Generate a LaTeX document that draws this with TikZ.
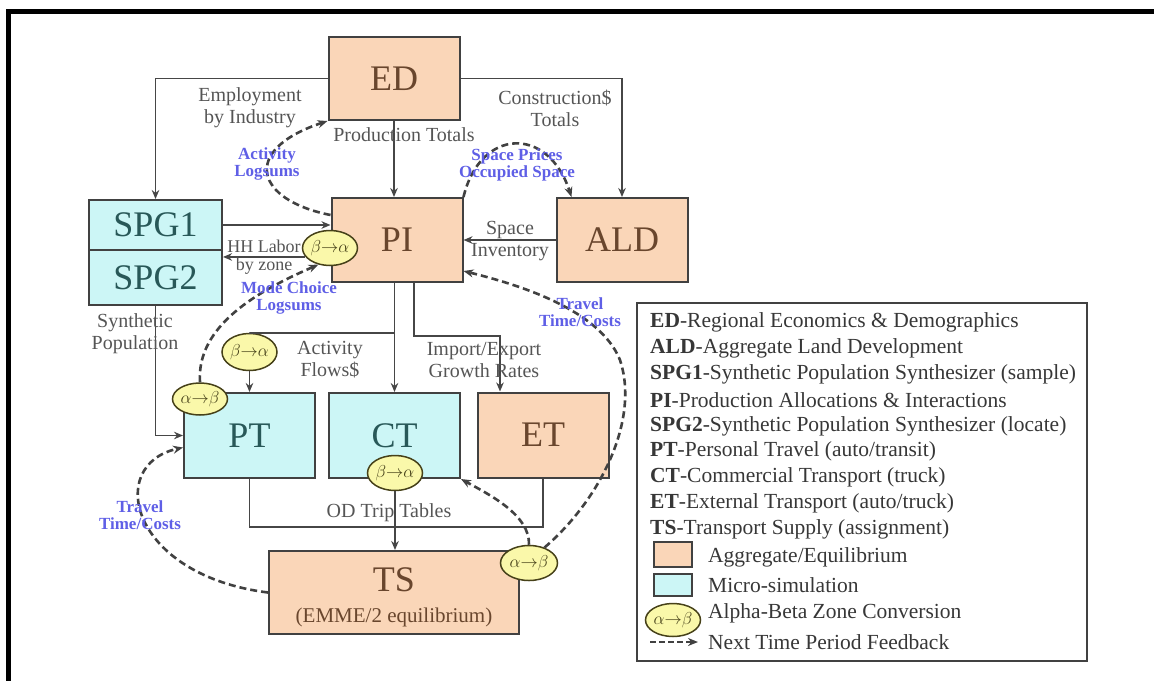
\documentclass[tikz,border=0pt]{standalone}
\usepackage{fontspec}
\setmainfont{Liberation Serif}
\usepackage{xcolor}
\usepackage{tikz}
\usetikzlibrary{arrows.meta, positioning, shapes.geometric, calc}

\definecolor{aggfill}{RGB}{250,214,184}
\definecolor{aggtext}{RGB}{105,70,45}
\definecolor{microfill}{RGB}{204,246,246}
\definecolor{microtext}{RGB}{40,88,88}
\definecolor{convfill}{RGB}{250,248,170}
\definecolor{convline}{RGB}{70,65,25}
\definecolor{boxline}{RGB}{65,65,65}
\definecolor{linegray}{RGB}{70,70,70}
\definecolor{lbltext}{RGB}{85,85,85}
\definecolor{fbtext}{RGB}{95,95,230}
\definecolor{legtext}{RGB}{55,55,55}

\begin{document}
\begin{tikzpicture}[
    x=1pt, y=-1pt,
    box/.style={
        rectangle,
        draw=boxline,
        line width=2pt,
        minimum width=131pt,
        minimum height=84pt,
        inner sep=0pt,
        font=\fontsize{36}{36}\selectfont
    },
    agg/.style={box, fill=aggfill, text=aggtext},
    micro/.style={box, fill=microfill, text=microtext},
    conv/.style={
        ellipse,
        draw=convline,
        fill=convfill,
        line width=1.5pt,
        minimum width=55pt,
        minimum height=35pt,
        inner sep=0pt,
        text=convline,
        font=\fontsize{16}{16}\selectfont
    },
    lbl/.style={align=center, text=lbltext, font=\fontsize{20}{22}\selectfont},
    fb/.style={align=center, text=fbtext, font=\bfseries\fontsize{17}{17.5}\selectfont},
    leg/.style={anchor=west, text=legtext, inner sep=0pt, font=\fontsize{21.5}{22}\selectfont},
    link/.style={line width=1.9pt, draw=linegray},
    arrow/.style={link, -{Stealth[length=9pt, width=7.5pt]}},
    feedback/.style={
        -{Stealth[length=10pt, width=8pt]},
        line width=2.6pt,
        draw=boxline,
        dash pattern=on 7pt off 4pt
    }
]
\useasboundingbox (0,0) rectangle (1154,681);

% === Frame ===
\fill[black] (6,9) rectangle (1154,14);
\fill[black] (6,9) rectangle (11,681);

% === Aggregate / equilibrium models ===
\node[agg, minimum height=83pt] (ed) at (394,78.5) {ED};
\node[agg] (pi) at (397,240) {PI};
\node[agg] (ald) at (622,240) {ALD};
\node[agg, minimum height=85pt] (et) at (543,435) {ET};
\node[agg, minimum width=250pt, minimum height=83pt] (ts) at (394,592.5) {};
\node[text=aggtext, font=\fontsize{36}{36}\selectfont] (tsname) at (394,580) {TS};
\node[text=aggtext, font=\fontsize{21}{21}\selectfont] (tsmodel) at (394,617) {(EMME/2 equilibrium)};

% === Micro-simulation models ===
\node[micro, minimum width=133pt, minimum height=50pt] (spg1) at (155.5,225) {SPG1};
\node[micro, minimum width=133pt, minimum height=55pt] (spg2) at (155.5,277.5) {SPG2};
\node[micro, minimum height=85pt] (pt) at (249.5,435.5) {PT};
\node[micro, minimum height=85pt] (ct) at (394.5,435.5) {CT};

% === Zone conversions ===
\node[conv] (bapi) at (330,248) {$\beta{\rightarrow}\alpha$};
\node[conv, minimum height=37pt] (bapt) at (249.5,352) {$\beta{\rightarrow}\alpha$};
\node[conv, minimum height=32pt] (abpt) at (200,399) {$\alpha{\rightarrow}\beta$};
\node[conv] (bact) at (395,473) {$\beta{\rightarrow}\alpha$};
\node[conv, minimum width=57pt] (abts) at (529,563) {$\alpha{\rightarrow}\beta$};

% === Flows ===
\coordinate (split) at (394.5,333);
\draw[arrow] (ed.west) -| (spg1.north);
\draw[arrow] (ed.east) -| (ald.north);
\draw[arrow] (ed.south) -- (ed.south |- pi.north);
\draw[arrow] (spg1.east) -- (spg1.east -| pi.west);
\draw[arrow] (bapi.200) -- (bapi.200 -| spg2.east);
\draw[arrow] (ald.west) -- (pi.east);
\draw[arrow] (ct.north |- pi.south) -- (ct.north);
\draw[link] (split) -| (bapt.north);
\draw[arrow] (bapt.south) -- (pt.north);
\draw[arrow] ([xshift=17pt]pi.south) -- ++(0,53) -| ([xshift=-43pt]et.north);
\draw[arrow] (spg2.south) |- (pt.west);
\draw[link] (pt.south) -- ++(0,48) -| (et.south);
\draw[arrow] (bact.south) -- (bact.south |- ts.north);

% === Next time period feedback ===
\draw[feedback] ([yshift=-18pt]pi.north west) .. controls (255,200) and (240,150) .. (ed.south west);
\draw[feedback] (pi.north east) .. controls (480,128) and (548,125) .. ([xshift=16pt]ald.north west);
\draw[feedback] (abpt.north) .. controls (196,325) and (260,290) .. (bapi.235);
\draw[feedback] (abts.45) .. controls (600,500) and (640,420) .. (620,360)
    .. controls (600,310) and (520,285) .. ([yshift=12pt]pi.south east);
\draw[feedback] (abts.north) .. controls (530,515) and (490,495) .. (ct.south east);
\draw[feedback] (ts.west) .. controls (130,575) and (105,465) .. ([yshift=-12pt]pt.west);

% === Flow labels ===
\node[lbl] (emp) at (250,108) {Employment\\by Industry};
\node[lbl] (cons) at (555,108) {Construction\$\\Totals};
\node[lbl] (prod) at (404,135) {Production Totals};
\node[lbl] (space) at (510,241) {Space\\Inventory};
\node[lbl, font=\fontsize{18}{18}\selectfont] (labor) at (264,257) {HH Labor\\by zone};
\node[lbl] (synpop) at (135,334) {Synthetic\\Population};
\node[lbl] (actflow) at (330,360) {Activity\\Flows\$};
\node[lbl] (impexp) at (484,360) {Import/Export\\Growth Rates};
\node[lbl] (odtrip) at (389,513) {OD Trip Tables};

% === Feedback labels ===
\node[fb] (actlog) at (267,164) {Activity\\Logsums};
\node[fb] (spprice) at (517,165) {Space Prices\\Occupied Space};
\node[fb] (modelog) at (289,298) {Mode Choice\\Logsums};
\node[fb] (ttright) at (580,312) {Travel\\Time/Costs};
\node[fb] (ttleft) at (140,515) {Travel\\Time/Costs};

% === Legend ===
\node[draw=boxline, line width=1.4pt, minimum width=450pt, minimum height=358pt, inner sep=0pt] (legend) at (862,482) {};
\node[leg] (leg1) at (650,322) {\textbf{ED}-Regional Economics \& Demographics};
\node[leg] (leg2) at (650,348) {\textbf{ALD}-Aggregate Land Development};
\node[leg] (leg3) at (650,374) {\textbf{SPG1}-Synthetic Population Synthesizer (sample)};
\node[leg] (leg4) at (650,400) {\textbf{PI}-Production Allocations \& Interactions};
\node[leg] (leg5) at (650,426) {\textbf{SPG2}-Synthetic Population Synthesizer (locate)};
\node[leg] (leg6) at (650,451) {\textbf{PT}-Personal Travel (auto/transit)};
\node[leg] (leg7) at (650,477) {\textbf{CT}-Commercial Transport (truck)};
\node[leg] (leg8) at (650,503) {\textbf{ET}-External Transport (auto/truck)};
\node[leg] (leg9) at (650,529) {\textbf{TS}-Transport Supply (assignment)};
\node[agg, minimum width=38pt, minimum height=25pt, line width=1.4pt] (legagg) at (673,554.5) {};
\node[micro, minimum width=38pt, minimum height=22pt, line width=1.4pt] (legmicro) at (673,585) {};
\node[conv, minimum height=33pt] (legconv) at (673,620) {$\alpha{\rightarrow}\beta$};
\coordinate (legfbstart) at (650,642);
\coordinate (legfbend) at (698,642);
\draw[feedback, line width=2pt, dash pattern=on 6pt off 3pt] (legfbstart) -- (legfbend);
\node[leg] (legaggtxt) at (708,557) {Aggregate/Equilibrium};
\node[leg] (legmicrotxt) at (708,585) {Micro-simulation};
\node[leg] (legconvtxt) at (708,613) {Alpha-Beta Zone Conversion};
\node[leg] (legfbtxt) at (708,642) {Next Time Period Feedback};

\end{tikzpicture}
\end{document}
